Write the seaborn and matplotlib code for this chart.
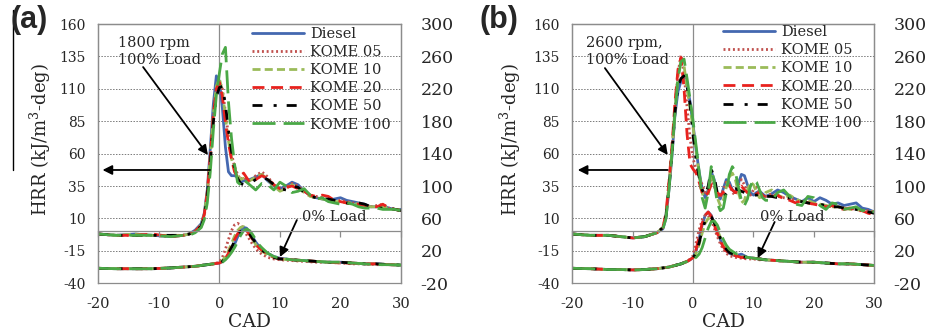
import matplotlib
matplotlib.use("Agg")
import matplotlib.pyplot as plt
import seaborn as sns
from matplotlib.lines import Line2D

# ---------------- data ----------------
fuels = ["Diesel", "KOME 05", "KOME 10", "KOME 20", "KOME 50", "KOME 100"]
colors = ["#4468b0", "#c0504d", "#9bbb59", "#e8221e", "#000000", "#4aa846"]

# Panel (a) 1800 rpm, 100 % load (left axis)
cad_a_full = [-20, -17, -14, -11, -8, -6, -5, -4, -3, -2.5, -2, -1.5, -1, -0.5, 0, 0.5, 1, 1.5, 2, 2.5,
              3, 3.5, 4, 5, 6, 7, 8, 9, 10, 11, 12, 13, 14, 15, 16, 17, 18, 19, 20, 21, 22, 23, 24, 25,
              26, 27, 28, 29, 30]
a_full_diesel = [-2, -3, -2, -3, -4, -3, -2, 1, 6, 14, 32, 64, 98, 120, 116, 95, 65, 46, 43, 43,
                 42, 38, 39, 40, 42, 44, 39, 35, 33, 35, 38, 36, 31, 28, 26, 25, 24, 25, 26, 24, 23, 22,
                 21, 19, 19, 20, 18, 17, 17]
a_full_k05 = [-2, -3, -3, -3, -4, -3, -2, 0, 5, 12, 28, 56, 88, 110, 116, 110, 92, 74, 60, 50,
              44, 40, 42, 38, 43, 46, 42, 36, 32, 34, 37, 35, 31, 28, 27, 26, 24, 23, 24, 23, 22, 21,
              20, 19, 20, 21, 18, 17, 16]
a_full_k10 = [-2, -3, -2, -3, -3, -3, -2, 0, 5, 13, 30, 58, 90, 112, 118, 108, 88, 70, 56, 48,
              43, 40, 41, 39, 42, 44, 40, 35, 31, 33, 36, 34, 30, 27, 26, 25, 24, 23, 23, 22, 22, 21,
              20, 19, 19, 19, 18, 17, 17]
a_full_k20 = [-2, -3, -3, -2, -4, -3, -2, 0, 5, 13, 30, 58, 90, 110, 115, 104, 84, 68, 56, 46,
              42, 43, 45, 38, 40, 43, 41, 36, 33, 34, 35, 33, 31, 28, 27, 28, 27, 24, 23, 22, 21, 21,
              20, 19, 19, 21, 18, 17, 16]
a_full_k50 = [-2, -3, -3, -3, -3, -3, -2, -0.5, 4, 11, 27, 53, 84, 104, 111, 112, 98, 78, 62, 49,
              41, 37, 36, 37, 40, 42, 40, 36, 33, 32, 35, 34, 30, 27, 26, 25, 25, 24, 23, 22, 21, 22,
              21, 19, 18, 18, 18, 17, 16]
a_full_k100 = [-2, -3, -3, -3, -4, -3, -3, -1, 3, 9, 22, 46, 78, 105, 122, 137, 142, 100, 72, 52,
               38, 36, 40, 36, 32, 37, 36, 32, 38, 35, 30, 31, 33, 28, 25, 26, 23, 22, 21, 22, 21, 19,
               18, 18, 18, 17, 17, 17, 16]

# Panel (a) 0 % load (right axis)
cad_a_idle = [-20, -17, -14, -11, -8, -6, -4, -3, -2, -1, 0, 0.5, 1, 1.5, 2, 2.5, 3, 3.5, 4, 4.5,
              5, 5.5, 6, 6.5, 7, 8, 9, 10, 12, 14, 16, 18, 20, 22, 24, 26, 28, 30]
a_idle_diesel = [-1.5, -2, -2, -2, -1, 0, 1, 2, 3, 4, 5, 7, 10, 14, 20, 28, 37, 45, 49, 48,
                 43, 37, 31, 26, 22, 17, 13, 11, 9, 8, 7, 6, 6, 5, 4, 4, 3, 2.5]
a_idle_k05 = [-1.5, -2, -2, -2, -1, 0, 1, 2, 3, 4, 6, 12, 22, 34, 45, 52, 54, 52, 47, 40,
              34, 28, 23, 19, 16, 12, 10, 9, 8, 7, 6, 6, 5, 4, 4, 3, 3, 2.5]
a_idle_k10 = [-1.5, -2, -2, -2, -1, 0, 1, 2, 3, 4, 5, 8, 13, 20, 29, 38, 45, 49, 50, 46,
              40, 34, 28, 23, 20, 15, 12, 10, 9, 8, 7, 6, 6, 5, 4, 4, 3, 2.5]
a_idle_k20 = [-1.5, -2, -2, -2, -1, 0, 1, 2, 3, 4, 5, 7, 11, 17, 25, 34, 41, 46, 47, 45,
              40, 34, 29, 24, 21, 16, 12, 10, 9, 8, 7, 6, 5, 5, 4, 4, 3, 2.5]
a_idle_k50 = [-1.5, -2, -2, -2, -1, 0, 1, 2, 3, 4, 5, 7, 11, 17, 24, 32, 39, 44, 46, 45,
              41, 35, 30, 25, 21, 16, 12, 10, 9, 8, 7, 6, 6, 5, 4, 4, 3, 2.5]
a_idle_k100 = [-1.5, -2, -2, -2, -1, 0, 1, 2, 3, 4, 5, 6, 9, 13, 18, 24, 31, 39, 45, 47,
               45, 40, 34, 28, 24, 17, 13, 11, 9, 8, 7, 6, 6, 5, 4, 3, 3, 2.5]

# Panel (b) 2600 rpm, 100 % load (left axis)
cad_b_full = [-20, -17, -14, -12, -10, -8, -6, -5, -4.5, -4, -3.5, -3, -2.5, -2, -1.5, -1, -0.5,
              0, 0.5, 1, 1.5, 2, 2.5, 3, 3.5, 4, 4.5, 5, 5.5, 6, 6.5, 7, 7.5, 8, 8.5, 9, 9.5, 10,
              10.5, 11, 11.5, 12, 13, 14, 15, 16, 17, 18, 19, 20, 21, 22, 23, 24, 25, 26, 27, 28, 29, 30]
b_full_diesel = [-2, -3, -3, -4, -5, -4, -1, 2, 10, 32, 58, 90, 108, 116, 119, 112, 100,
                 82, 63, 46, 33, 26, 32, 46, 40, 28, 25, 33, 40, 38, 32, 30, 37, 44, 43, 36, 30, 28,
                 30, 31, 29, 27, 29, 32, 30, 27, 25, 23, 26, 23, 26, 24, 21, 22, 20, 21, 22, 18, 17, 15]
b_full_k05 = [-2, -3, -3, -4, -5, -4, -1, 3, 12, 35, 62, 95, 122, 136, 122, 96, 72,
              56, 48, 42, 36, 30, 32, 40, 35, 28, 26, 32, 38, 36, 30, 28, 36, 40, 36, 30, 28, 32,
              34, 30, 28, 27, 29, 27, 26, 25, 24, 23, 22, 21, 21, 20, 19, 19, 18, 18, 17, 16, 16, 15]
b_full_k10 = [-2, -3, -3, -4, -5, -4, -1, 3, 12, 35, 62, 94, 120, 132, 128, 110, 95,
              80, 62, 45, 30, 22, 28, 45, 38, 26, 20, 24, 34, 42, 45, 40, 30, 22, 24, 32, 38, 36,
              30, 26, 27, 30, 32, 28, 26, 28, 25, 23, 24, 22, 21, 20, 19, 19, 18, 17, 17, 16, 15, 15]
b_full_k20 = [-2, -3, -3, -4, -5, -4, -1, 3, 14, 38, 66, 100, 125, 134, 110, 75, 52,
              48, 45, 38, 30, 27, 30, 36, 34, 30, 28, 30, 33, 35, 32, 30, 33, 35, 32, 30, 28, 27,
              29, 30, 28, 26, 27, 28, 25, 24, 22, 24, 22, 21, 20, 19, 20, 18, 17, 18, 16, 16, 14, 13]
b_full_k50 = [-2, -3, -3, -4, -5, -4, -1, 3, 12, 34, 60, 92, 112, 118, 120, 112, 98,
              74, 55, 42, 32, 28, 35, 48, 42, 30, 26, 27, 29, 31, 32, 33, 32, 31, 30, 30, 29, 28,
              28, 29, 28, 27, 27, 26, 25, 26, 24, 23, 22, 21, 21, 20, 19, 19, 18, 17, 17, 16, 15, 14]
b_full_k100 = [-2, -3, -3, -4, -5, -4, -1, 2, 10, 32, 60, 92, 118, 131, 133, 118, 102,
               85, 66, 46, 26, 18, 30, 50, 38, 22, 16, 18, 30, 44, 50, 46, 34, 24, 20, 25, 35, 40,
               38, 32, 26, 24, 24, 30, 32, 27, 21, 20, 27, 26, 20, 17, 22, 21, 17, 18, 19, 16, 17, 15]

# Panel (b) 0 % load (right axis)
cad_b_idle = [-20, -17, -14, -12, -10, -8, -6, -4, -3, -2, -1, -0.5, 0, 0.5, 1, 1.5, 2, 2.5, 3,
              3.5, 4, 4.5, 5, 5.5, 6, 7, 8, 9, 10, 11, 12, 14, 16, 18, 20, 22, 24, 26, 28, 30]
b_idle_diesel = [-1.5, -2, -3, -3, -3.5, -3, -2, 0, 2, 4, 7, 9, 12, 20, 35, 52, 64, 68, 64,
                 54, 44, 34, 26, 20, 17, 14, 16, 12, 11, 10, 9, 8, 7, 6, 6, 5, 4, 4, 3, 2]
b_idle_k05 = [-1.5, -2, -3, -3, -3.5, -3, -2, 0, 2, 4, 7, 10, 14, 30, 46, 58, 64, 64, 58,
              48, 38, 29, 22, 17, 14, 12, 11, 10, 10, 9, 9, 8, 7, 6, 6, 5, 4, 4, 3, 2]
b_idle_k10 = [-1.5, -2, -3, -3, -3.5, -3, -2, 0, 2, 4, 7, 9, 11, 17, 28, 42, 54, 60, 60,
              55, 46, 37, 29, 23, 19, 15, 13, 12, 11, 10, 9, 8, 7, 6, 6, 5, 4, 4, 3, 2]
b_idle_k20 = [-1.5, -2, -3, -3, -3.5, -3, -2, 0, 2, 4, 7, 9, 12, 22, 38, 54, 64, 68, 63,
              52, 42, 32, 25, 20, 17, 14, 12, 11, 11, 10, 9, 8, 7, 6, 6, 5, 4, 4, 3, 2]
b_idle_k50 = [-1.5, -2, -3, -3, -3.5, -3, -2, 0, 2, 4, 7, 9, 11, 18, 30, 45, 57, 63, 62,
              55, 45, 36, 28, 22, 18, 15, 13, 12, 11, 10, 9, 8, 7, 6, 6, 5, 4, 4, 3, 2]
b_idle_k100 = [-1.5, -2, -3, -3, -3.5, -3, -2, 0, 2, 4, 7, 9, 10, 12, 16, 24, 36, 48, 56,
               57, 52, 43, 34, 27, 22, 17, 14, 12, 11, 10, 9, 8, 7, 6, 6, 5, 4, 4, 3, 2]

left_ticks = [-40, -15, 10, 35, 60, 85, 110, 135, 160]
right_ticks = [-20, 20, 60, 100, 140, 180, 220, 260, 300]
x_ticks = [-20, -10, 0, 10, 20, 30]

# ---------------- style ----------------
sns.set_style("white")
plt.rcParams["font.family"] = ["DejaVu Serif"]
plt.rcParams["mathtext.fontset"] = "dejavuserif"
plt.rcParams["axes.unicode_minus"] = False

LW = 2.0
styles = {
    "Diesel": "-",
    "KOME 05": (0, (0.7, 1.0)),
    "KOME 10": (0, (2.9, 1.5)),
    "KOME 20": (0, (4.3, 2.4)),
    "KOME 50": (0, (3.6, 4.0, 1.1, 3.6)),
    "KOME 100": (0, (8.3, 2.9)),
}
GRAY = "#8c8c8c"

fig = plt.figure(figsize=(9.27, 3.31), dpi=100)

panels = [
    dict(rect=[98.3 / 927, 1 - 283.3 / 331, 302.7 / 927, 259.3 / 331], tag="(a)", tagx=10,
         xf=cad_a_full, full=[a_full_diesel, a_full_k05, a_full_k10, a_full_k20, a_full_k50, a_full_k100],
         xi=cad_a_idle, idle=[a_idle_diesel, a_idle_k05, a_idle_k10, a_idle_k20, a_idle_k50, a_idle_k100],
         note="1800 rpm\n100% Load", note_x=-16.7, diag=((-12.6, 126.8), (-1.9, 59)),
         horiz=((-1.55, 47.4), (-19.3, 47.4)), idle_txt=(13.7, 11.1), idle_arr=((12.8, 8.8), (10.0, -19.7)),
         ylab_x=-0.150, leg=(0.507, 0.988)),
    dict(rect=[572.3 / 927, 1 - 283.3 / 331, 302.0 / 927, 259.3 / 331], tag="(b)", tagx=480,
         xf=cad_b_full, full=[b_full_diesel, b_full_k05, b_full_k10, b_full_k20, b_full_k50, b_full_k100],
         xi=cad_b_idle, idle=[b_idle_diesel, b_idle_k05, b_idle_k10, b_idle_k20, b_idle_k50, b_idle_k100],
         note="2600 rpm,\n100% Load", note_x=-17.8, diag=((-14.6, 126), (-4.2, 59)),
         horiz=((-4.2, 47.4), (-19.1, 47.4)), idle_txt=(11.0, 11.1), idle_arr=((13.5, 7.3), (10.7, -20.5)),
         ylab_x=-0.163, leg=(0.499, 0.995)),
]

for p in panels:
    ax = fig.add_axes(p["rect"])
    ax2 = ax.twinx()

    ax.set_xlim(-20, 30)
    ax.set_ylim(-40, 160)
    ax2.set_ylim(-20, 300)
    ax.set_xticks(x_ticks)
    ax.set_yticks(left_ticks)
    ax2.set_yticks(right_ticks)

    ax.set_axisbelow(True)
    ax.grid(axis="y", linestyle=(0, (1.5, 1.5)), color="#7a7a7a", lw=0.7)
    ax.grid(axis="x", visible=False)
    ax.axvline(0, color=GRAY, lw=0.9, zorder=1)

    for sp in list(ax.spines.values()) + list(ax2.spines.values()):
        sp.set_color(GRAY)
        sp.set_linewidth(0.9)

    # zero line of the load axis with small downward ticks
    ax2.xaxis.set_visible(True)
    ax2.spines["bottom"].set_position(("axes", 0.2))
    ax2.tick_params(axis="x", bottom=True, top=False, labelbottom=False, labeltop=False,
                    direction="out", length=4, color=GRAY, width=0.9)

    ax.tick_params(axis="y", length=0, pad=9, labelsize=10)
    ax.tick_params(axis="x", length=0, pad=10, labelsize=10.5)
    ax2.tick_params(axis="y", length=0, pad=14, labelsize=12.5)

    # 0 % load curves on the right axis
    for f, c, y in zip(fuels, colors, p["idle"]):
        sns.lineplot(x=p["xi"], y=y, ax=ax2, color=c, lw=LW, linestyle=styles[f],
                     sort=False, estimator=None, legend=False)
    # 100 % load curves on the left axis
    for f, c, y in zip(fuels, colors, p["full"]):
        sns.lineplot(x=p["xf"], y=y, ax=ax, color=c, lw=LW, linestyle=styles[f],
                     sort=False, estimator=None, label=f)

    ax.set_xlabel("CAD", fontsize=13.5, labelpad=1)
    ax.set_ylabel("HRR (kJ/m$^3$-deg)", fontsize=13)
    ax.yaxis.set_label_coords(p["ylab_x"], 0.553)
    ax2.set_ylabel("")

    handles, labels = ax.get_legend_handles_labels()
    if ax.get_legend() is not None:
        ax.get_legend().remove()
    ax2.legend(handles, labels, loc="upper left", bbox_to_anchor=p["leg"], frameon=False,
               fontsize=10.5, handlelength=3.6, handletextpad=0.4, labelspacing=0.28,
               borderpad=0, borderaxespad=0)

    # annotations
    ax.text(p["note_x"], 139, p["note"], ha="left", va="center", fontsize=10.5, linespacing=1.25)
    arrow = dict(arrowstyle="-|>", color="black", lw=1.3, mutation_scale=14, shrinkA=0, shrinkB=0)
    ax.annotate("", xy=p["diag"][1], xytext=p["diag"][0], arrowprops=arrow)
    ax.annotate("", xy=p["horiz"][1], xytext=p["horiz"][0], arrowprops=arrow)
    ax.text(p["idle_txt"][0], p["idle_txt"][1], "0% Load", ha="left", va="center", fontsize=10.5)
    ax.annotate("", xy=p["idle_arr"][1], xytext=p["idle_arr"][0], arrowprops=arrow)

    fig.text(p["tagx"] / 927, 1 - 5 / 331, p["tag"], ha="left", va="top", fontsize=22,
             fontweight="bold", family="Liberation Sans")

fig.add_artist(Line2D([13 / 927, 13 / 927], [1 - 10 / 331, 1 - 170 / 331],
                      transform=fig.transFigure, color="black", lw=1.0))

fig.savefig("out.png", dpi=100)
